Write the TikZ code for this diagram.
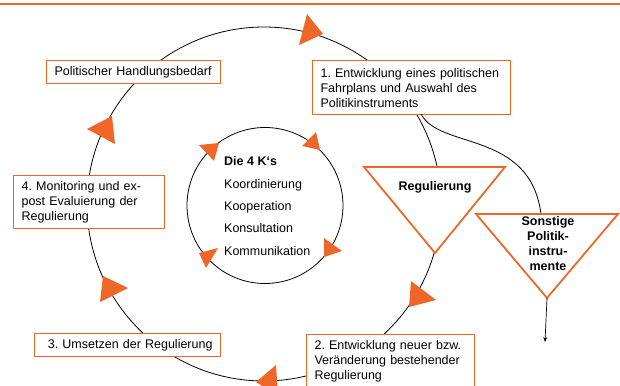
\documentclass[tikz,border=0pt]{standalone}
\usepackage{fontspec}
\setmainfont{Liberation Sans}
\usepackage{xcolor}
\usepackage{tikz}
\usetikzlibrary{arrows.meta}
\definecolor{kborange}{RGB}{239,103,40}
\tikzstyle{stage}      = [rectangle, draw=kborange, line width=1.1pt, fill=white, anchor=north west, align=left, inner xsep=8pt, inner ysep=0pt, font=\fontsize{12.5}{15}\selectfont]
\tikzstyle{instrument} = [draw=kborange, line width=1.8pt, fill=white, line join=miter]
\tikzstyle{instrtext}  = [align=center, inner sep=0pt, font=\bfseries\fontsize{12.5}{15}\selectfont]
\tikzstyle{kitem}      = [anchor=base west, inner sep=0pt, font=\fontsize{12.5}{15}\selectfont]
\tikzstyle{cyclehead}  = [fill=kborange]
\tikzstyle{ring}       = [draw=black, line width=0.8pt]
\tikzstyle{arrow}      = [-{Stealth[length=5pt, width=4pt]}, line width=0.7pt]

\begin{document}
\frenchspacing
\begin{tikzpicture}[x=1pt, y=-1pt]
    \useasboundingbox (0,0) rectangle (620,385);
    \clip (0,0) rectangle (620,385);
    \draw [kborange, line width=2.5pt] (0,4) -- (620,4);

    % Kreislauf und die 4 K's
    \draw [ring] (264,204) circle[radius=177pt];
    \draw [ring] (265,205.5) circle[radius=78pt];

    \fill [cyclehead] (307,14) -- (299,45) -- (323,34) -- cycle;
    \fill [cyclehead] (112,116) -- (87,129) -- (115,144) -- cycle;
    \fill [cyclehead] (103,276) -- (100,302) -- (128,288) -- cycle;
    \fill [cyclehead] (256,382) -- (276,365) -- (278,396) -- cycle;
    \fill [cyclehead] (411,281) -- (409,307) -- (436,300) -- cycle;

    \fill [cyclehead] (199,145) -- (219,143) -- (214,161) -- cycle;
    \fill [cyclehead] (316,132) -- (302,146) -- (320,150) -- cycle;
    \fill [cyclehead] (324,238) -- (324,257) -- (342,251) -- cycle;
    \fill [cyclehead] (218,248) -- (199,253) -- (206,268) -- cycle;

    \node (bedarf) [stage, text width=158pt, minimum height=23pt] at (46,60) {Politischer Handlungsbedarf};
    \node (fahrplan) [stage, text width=182pt, minimum height=54pt] at (312,60) {1. Entwicklung eines politischen\\Fahrplans und Auswahl des\\Politikinstruments};
    \node (neu) [stage, text width=152pt, minimum height=54pt] at (306,334) {2. Entwicklung neuer bzw.\\Veränderung bestehender\\Regulierung};
    \node (umsetzen) [stage, align=right, text width=170pt, minimum height=23pt] at (34,333) {3. Umsetzen der Regulierung};
    \node (monitoring) [stage, text width=135pt, minimum height=53pt] at (13,175) {4. Monitoring und ex-\\post Evaluierung der\\Regulierung};

    \node (die) [kitem, font=\bfseries\fontsize{12.5}{15}\selectfont] at (224,165) {Die 4 K‘s};
    \node (koord) [kitem] at (224,188) {Koordinierung};
    \node (koop) [kitem] at (224,210) {Kooperation};
    \node (konsult) [kitem] at (224,232) {Konsultation};
    \node (kommu) [kitem] at (224,255) {Kommunikation};

    % Politikinstrumente
    \coordinate (abzweig) at (421,114);
    \coordinate (sonsttop) at (541,214);
    \coordinate (sonsttip) at (547,298);
    \coordinate (ende) at (545,342);
    \draw [ring] (abzweig) .. controls (440,150) and (530,130) .. (sonsttop);

    \draw [instrument] (364,167) -- (505,167) -- (435,253) -- cycle;
    \node (regulierung) [instrtext] at (435,187) {Regulierung};
    \draw [instrument] (476,214) -- (618,214) -- (sonsttip) -- cycle;
    \node (sonstige) [instrtext] at (548,244) {Sonstige\\Politik-\\instru-\\mente};

    \draw [arrow] (sonsttip) -- (ende);
\end{tikzpicture}
\end{document}
